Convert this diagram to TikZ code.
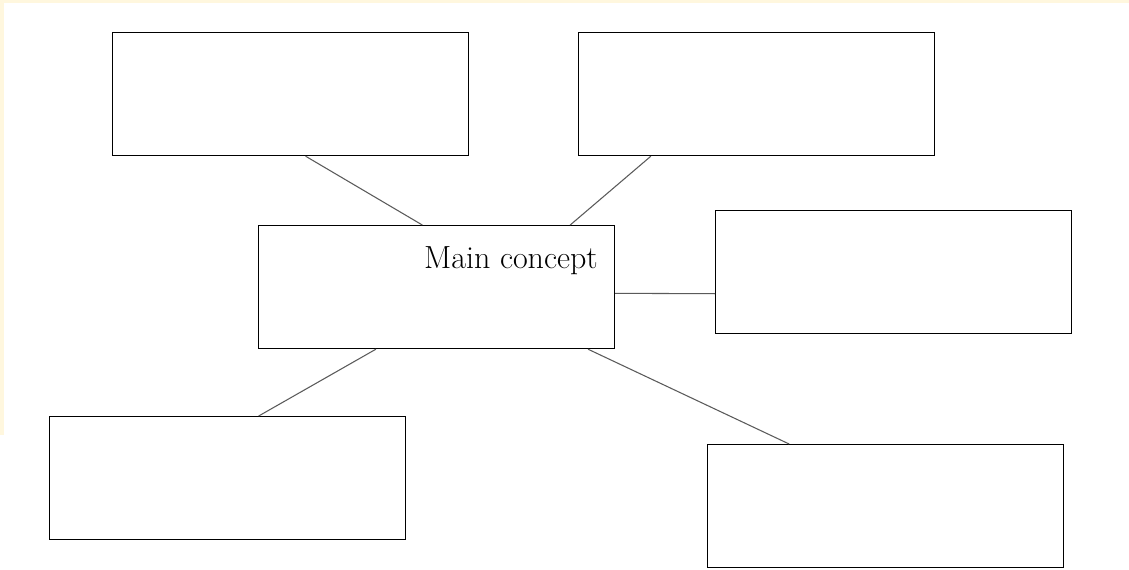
\documentclass[tikz,border=0pt]{standalone}
\usepackage{tikz}
\usepackage{xcolor}
\usetikzlibrary{calc}
\definecolor{edgecream}{RGB}{255,247,222}
\definecolor{linkgray}{RGB}{90,90,90}

\begin{document}
\begin{tikzpicture}[x=0.75pt,y=-0.75pt,
        box/.style={rectangle,draw=black,line width=0.9pt,anchor=north west,
          minimum width=356*0.75pt,minimum height=123*0.75pt,inner sep=0pt},
        link/.style={draw=linkgray,line width=0.8pt}]
        \useasboundingbox (0,0) rectangle (1129,569);
        % soft page edges
        \fill[edgecream] (0,0) rectangle (1129,3);
        \fill[edgecream] (0,0) rectangle (4,435);
        \node[box] (top1) at (112,32) {};
        \node[box] (top2) at (578,32) {};
        \node[box] (main) at (258,225) {};
        \node[box] (right) at (715,210) {};
        \node[box] (bot1) at (49,416) {};
        \node[box] (bot2) at (707,444) {};
        \node[anchor=base east,font=\fontsize{24}{28}\selectfont,inner sep=0pt] (mainlbl) at (598,268) {Main concept};
        \draw[link] ($(top1.south west)!0.542!(top1.south east)$) -- ($(main.north west)!0.46!(main.north east)$);
        \draw[link] ($(top2.south west)!0.204!(top2.south east)$) -- ($(main.north west)!0.874!(main.north east)$);
        \draw[link] ($(main.north east)!0.55!(main.south east)$) -- ($(right.north west)!0.674!(right.south west)$);
        \draw[link] ($(main.south west)!0.33!(main.south east)$) -- ($(bot1.north west)!0.587!(bot1.north east)$);
        \draw[link] ($(main.south west)!0.924!(main.south east)$) -- ($(bot2.north west)!0.23!(bot2.north east)$);
      \end{tikzpicture}
\end{document}
